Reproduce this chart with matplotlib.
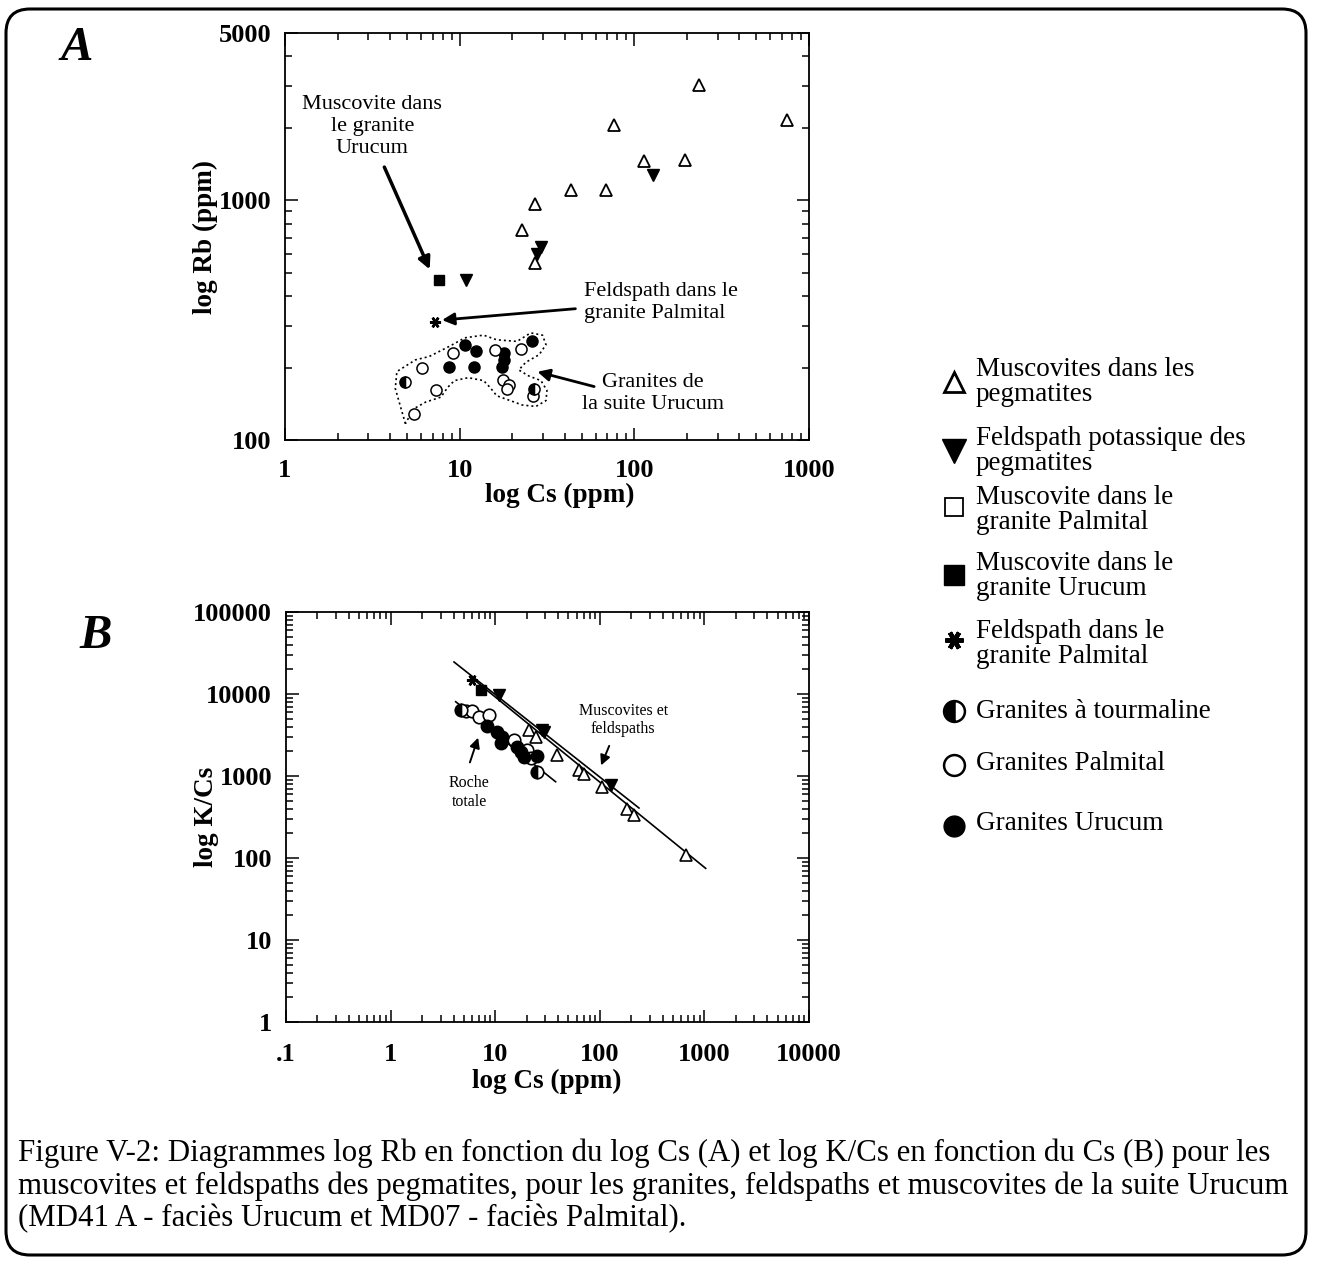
import matplotlib
matplotlib.use("Agg")
from matplotlib import pyplot as plt
from matplotlib.patches import FancyBboxPatch
from matplotlib.ticker import FixedLocator, LogLocator, NullFormatter

# ---- panel A : log Rb vs log Cs ----
a_musc_peg_cs = [236, 76, 750, 114, 195, 43.6, 68.8, 27.0, 22.6, 27.0]
a_musc_peg_rb = [3035, 2066, 2170, 1458, 1477, 1101, 1101, 970, 753, 550]
a_kfs_peg_cs = [128.5, 27.8, 29.2, 10.9]
a_kfs_peg_rb = [1280, 600, 640, 467]
a_musc_uru_cs = [7.64]
a_musc_uru_rb = [467]
a_fsp_pal_cs = [7.24]
a_fsp_pal_rb = [312]
a_gr_uru_cs = [10.7, 12.4, 8.73, 12.05, 26.1, 18.0, 18.0, 17.5]
a_gr_uru_rb = [250, 236, 201, 202, 258, 230, 216, 202]
a_gr_pal_cs = [6.11, 9.13, 16.0, 22.3, 7.30, 5.46, 17.8, 19.1, 18.7, 26.4]
a_gr_pal_rb = [199, 230, 238, 240, 162, 128, 178, 169, 163, 153]
a_gr_tou_cs = [4.84, 26.7]
a_gr_tou_rb = [174, 164]

# dotted envelope around the granites
env_cs = [4.89, 4.28, 4.37, 5.58, 6.68, 8.73, 10.7, 13.7, 16.3, 21.3, 25.5, 29.8,
          31.2, 28.5, 23.9, 21.8, 24.9, 29.2, 31.6, 31.2, 27.3, 22.8, 19.5, 16.3,
          14.9, 13.7, 11.2, 9.33, 8.55, 7.81, 6.39, 5.46, 5.11, 4.89]
env_rb = [117, 164, 193, 216, 223, 246, 267, 274, 262, 258, 280, 274,
          250, 227, 211, 196, 185, 177, 161, 146, 138, 140, 146, 153,
          166, 177, 182, 177, 166, 151, 144, 135, 124, 117]

# ---- panel B : log K/Cs vs log Cs ----
b_musc_peg_cs = [21.0, 24.4, 39.3, 63.2, 70.6, 106, 183, 212, 662]
b_musc_peg_kcs = [3640, 2970, 1800, 1183, 1057, 741, 393, 334, 109]
b_kfs_peg_cs = [10.9, 28.2, 29.5, 127]
b_kfs_peg_kcs = [9730, 3640, 3400, 776]
b_musc_uru_cs = [7.26]
b_musc_uru_kcs = [11200]
b_fsp_pal_cs = [6.04]
b_fsp_pal_kcs = [14830]
b_gr_uru_cs = [8.41, 10.5, 11.7, 11.3, 16.3, 17.5, 18.8, 25.3]
b_gr_uru_kcs = [4070, 3470, 3010, 2500, 2280, 1980, 1720, 1750]
b_gr_pal_cs = [5.22, 6.04, 7.0, 8.73, 15.1, 20.3, 21.8]
b_gr_pal_kcs = [6210, 6140, 5290, 5550, 2750, 2080, 1640]
b_gr_tou_cs = [4.68, 25.3]
b_gr_tou_kcs = [6380, 1130]

# fitted trend lines (end points)
fit_mf1_cs = [4.04, 237]
fit_mf1_kcs = [24560, 407]
fit_mf2_cs = [6.0, 1028]
fit_mf2_kcs = [15660, 74.8]
fit_rt_cs = [4.19, 37.8]
fit_rt_kcs = [8050, 851]

legend_labels = [
    "Muscovites dans les\npegmatites",
    "Feldspath potassique des\npegmatites",
    "Muscovite dans le\ngranite Palmital",
    "Muscovite dans le\ngranite Urucum",
    "Feldspath dans le\ngranite Palmital",
    "Granites à tourmaline",
    "Granites Palmital",
    "Granites Urucum",
]

caption = [
    "Figure V-2: Diagrammes log Rb en fonction du log Cs (A) et log K/Cs en fonction du Cs (B) pour les",
    "muscovites et feldspaths des pegmatites, pour les granites, feldspaths et muscovites de la suite Urucum",
    "(MD41 A - faciès Urucum et MD07 - faciès Palmital).",
]

plt.rcParams["font.family"] = ["Liberation Serif", "DejaVu Serif"]
W, H = 1319, 1264
fig = plt.figure(figsize=(W / 100, H / 100), dpi=100)

# overlay in pixel units for frame, legend and caption
ov = fig.add_axes([0, 0, 1, 1], zorder=0)
ov.set_xlim(0, W)
ov.set_ylim(H, 0)
ov.axis("off")
ov.add_patch(FancyBboxPatch((6, 9), 1300, 1246, boxstyle="round,pad=0,rounding_size=24",
                            fill=False, lw=2.2, ec="k"))

ms_open = dict(mfc="white", mec="k", ls="none")
ms_fill = dict(mfc="k", mec="k", ls="none")
half = dict(mfc="k", mec="k", mfcalt="white", fillstyle="left", ls="none")
star = dict(marker=(6, 2, 90), mec="k", ls="none")


def style_log_axes(ax, xmaj, xlab, ymaj, ylab, xpad, ypad):
    ax.set_xscale("log")
    ax.set_yscale("log")
    ax.xaxis.set_major_locator(FixedLocator(xmaj))
    ax.xaxis.set_minor_locator(LogLocator(base=10, subs=range(2, 10)))
    ax.yaxis.set_major_locator(FixedLocator(ymaj))
    ax.yaxis.set_minor_locator(LogLocator(base=10, subs=range(2, 10)))
    ax.xaxis.set_minor_formatter(NullFormatter())
    ax.yaxis.set_minor_formatter(NullFormatter())
    ax.set_xticklabels(xlab)
    ax.set_yticklabels(ylab)
    ax.tick_params(which="both", direction="in", top=True, right=True, width=1.1)
    ax.tick_params(which="major", length=9)
    ax.tick_params(which="minor", length=5)
    ax.tick_params(axis="x", pad=xpad, labelsize=19)
    ax.tick_params(axis="y", pad=ypad, labelsize=19)
    for t in ax.get_xticklabels() + ax.get_yticklabels():
        t.set_fontweight("bold")
    for s in ax.spines.values():
        s.set_linewidth(1.3)


# ---------------- panel A ----------------
axA = fig.add_axes([285 / W, 1 - 440 / H, 524 / W, 407 / H], zorder=2)
axA.set_xlim(1, 1000)
axA.set_ylim(100, 5000)
style_log_axes(axA, [1, 10, 100, 1000], ["1", "10", "100", "1000"],
               [100, 1000, 5000], ["100", "1000", "5000"], 14, 10)

axA.plot(env_cs, env_rb, color="k", lw=1.2, dashes=(1.2, 1.8))
axA.plot(a_musc_peg_cs, a_musc_peg_rb, marker="^", ms=8, mew=1.3, **ms_open)
axA.plot(a_kfs_peg_cs, a_kfs_peg_rb, marker="v", ms=8.5, **ms_fill)
axA.plot(a_musc_uru_cs, a_musc_uru_rb, marker="s", ms=7, **ms_fill)
axA.plot(a_fsp_pal_cs, a_fsp_pal_rb, ms=8, mew=1.8, **star)
axA.plot(a_gr_uru_cs, a_gr_uru_rb, marker="o", ms=8, **ms_fill)
axA.plot(a_gr_pal_cs, a_gr_pal_rb, marker="o", ms=8, mew=1.1, **ms_open)
axA.plot(a_gr_tou_cs, a_gr_tou_rb, marker="o", ms=8, mew=1.1, **half)

axA.text(3.16, 2040, "Muscovite dans\nle granite\nUrucum", ha="center", va="center",
         fontsize=16, linespacing=1.2)
axA.annotate("", xy=(6.84, 503), xytext=(3.65, 1412),
             arrowprops=dict(arrowstyle="-|>", color="k", lw=2.5, mutation_scale=18))
axA.text(51.3, 374, "Feldspath dans le\ngranite Palmital", ha="left", va="center",
         fontsize=16, linespacing=1.2)
axA.annotate("", xy=(7.64, 316), xytext=(47.7, 354),
             arrowprops=dict(arrowstyle="-|>", color="k", lw=2, mutation_scale=18))
axA.text(127.6, 156, "Granites de\nla suite Urucum", ha="center", va="center",
         fontsize=16, linespacing=1.2)
axA.annotate("", xy=(26.9, 194), xytext=(61, 166),
             arrowprops=dict(arrowstyle="-|>", color="k", lw=2, mutation_scale=18))

axA.text(0.525, -0.135, "log Cs (ppm)", transform=axA.transAxes, ha="center", va="center",
         fontsize=19.5, fontweight="bold")
axA.text(-0.152, 0.5, "log Rb (ppm)", transform=axA.transAxes, ha="center", va="center",
         rotation=90, fontsize=19.5, fontweight="bold")

# ---------------- panel B ----------------
axB = fig.add_axes([286 / W, 1 - 1022 / H, 523 / W, 410 / H], zorder=2)
axB.set_xlim(0.1, 10000)
axB.set_ylim(1, 100000)
style_log_axes(axB, [0.1, 1, 10, 100, 1000, 10000], [".1", "1", "10", "100", "1000", "10000"],
               [1, 10, 100, 1000, 10000, 100000], ["1", "10", "100", "1000", "10000", "100000"],
               15, 10)

for xs, ys in [(fit_mf1_cs, fit_mf1_kcs), (fit_mf2_cs, fit_mf2_kcs), (fit_rt_cs, fit_rt_kcs)]:
    axB.plot(xs, ys, color="k", lw=1.2)
axB.plot(b_musc_peg_cs, b_musc_peg_kcs, marker="^", ms=8.5, mew=1.2, **ms_open)
axB.plot(b_kfs_peg_cs, b_kfs_peg_kcs, marker="v", ms=8.5, **ms_fill)
axB.plot(b_musc_uru_cs, b_musc_uru_kcs, marker="s", ms=7.5, **ms_fill)
axB.plot(b_fsp_pal_cs, b_fsp_pal_kcs, ms=8, mew=1.8, **star)
axB.plot(b_gr_pal_cs, b_gr_pal_kcs, marker="o", ms=9, mew=1.2, **ms_open)
axB.plot(b_gr_uru_cs, b_gr_uru_kcs, marker="o", ms=9, **ms_fill)
axB.plot(b_gr_tou_cs, b_gr_tou_kcs, marker="o", ms=9, mew=1.2, **half)

axB.text(167, 4820, "Muscovites et\nfeldspaths", ha="center", va="center", fontsize=11.5,
         linespacing=1.2)
axB.annotate("", xy=(100.5, 1253), xytext=(126, 2507),
             arrowprops=dict(arrowstyle="-|>", color="k", lw=1.4, mutation_scale=15))
axB.text(5.62, 638, "Roche\ntotale", ha="center", va="center", fontsize=11.5, linespacing=1.25)
axB.annotate("", xy=(7.0, 3160), xytext=(5.62, 1360),
             arrowprops=dict(arrowstyle="-|>", color="k", lw=1.4, mutation_scale=15))

axB.text(0.499, -0.145, "log Cs (ppm)", transform=axB.transAxes, ha="center", va="center",
         fontsize=19.5, fontweight="bold")
axB.text(-0.152, 0.5, "log K/Cs", transform=axB.transAxes, ha="center", va="center",
         rotation=90, fontsize=19.5, fontweight="bold")

# panel letters
ov.text(77, 48, "A", ha="center", va="center", fontsize=35, fontweight="bold", style="italic")
ov.text(96, 636, "B", ha="center", va="center", fontsize=35, fontweight="bold", style="italic")

# ---------------- legend ----------------
leg_marker_y = [382, 451, 507, 575, 640, 711, 765, 826]
leg_text_y = [382, 451, 510, 576, 644, 711, 764, 824]
leg_styles = [
    dict(marker="^", ms=15, mew=2, **ms_open),
    dict(marker="v", ms=17, **ms_fill),
    dict(marker="s", ms=13, mew=1.3, **ms_open),
    dict(marker="s", ms=14, **ms_fill),
    dict(ms=13, mew=3.2, **star),
    dict(marker="o", ms=15, mew=1.8, **half),
    dict(marker="o", ms=15, mew=1.8, **ms_open),
    dict(marker="o", ms=15, **ms_fill),
]
for lab, my, ty, st in zip(legend_labels, leg_marker_y, leg_text_y, leg_styles):
    ov.plot([954], [my], **st)
    ov.text(976, ty, lab, ha="left", va="center", fontsize=19.5, linespacing=0.95)

# ---------------- caption ----------------
for i, line in enumerate(caption):
    ov.text(18, 1153 + 33 * i, line, ha="left", va="center", fontsize=22.2)

fig.savefig("out.png", dpi=100)
